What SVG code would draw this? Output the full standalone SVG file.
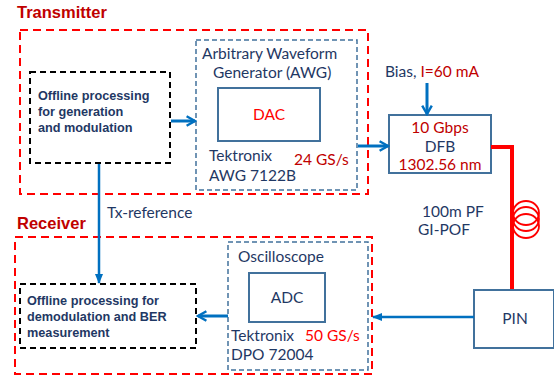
<svg xmlns="http://www.w3.org/2000/svg" width="554" height="376" viewBox="0 0 554 376">
<defs>
<style>
.t{font-family:Lato,"Liberation Sans",sans-serif;font-size:15.5px;fill:#1f3864}
.r{fill:#c00000}
.rb{fill:#ff0000}
.b{font-family:"Liberation Sans",Arial,sans-serif;font-size:12.7px;font-weight:bold;fill:#1f3864}
.h{font-family:"Liberation Sans",Arial,sans-serif;font-size:16.5px;font-weight:bold;fill:#c00000}
.red{fill:none;stroke:#ff0000;stroke-width:2;stroke-dasharray:8 5}
.blk{fill:none;stroke:#000;stroke-width:2;stroke-dasharray:6 4}
.bg{fill:none;stroke:#41719c;stroke-width:1.5;stroke-dasharray:5 3}
.sol{fill:#fff;stroke:#41719c;stroke-width:2}
.a{fill:none;stroke:#0070c0;stroke-width:3}
.a2{fill:none;stroke:#0070c0;stroke-width:2.5}
</style>
<marker id="v" viewBox="0 0 10 10" refX="8" refY="5" markerWidth="4" markerHeight="4" orient="auto" markerUnits="strokeWidth">
<path d="M1,1 L8,5 L1,9" fill="none" stroke="#0070c0" stroke-width="2"/>
</marker>
<marker id="f" viewBox="0 0 10 10" refX="9" refY="5" markerWidth="4" markerHeight="4" orient="auto" markerUnits="strokeWidth">
<path d="M0,1 L10,5 L0,9 Z" fill="#0070c0"/>
</marker>
</defs>
<rect width="554" height="376" fill="#fff"/>

<g id="transmitter">
<text class="h" x="17" y="18">Transmitter</text>
<rect class="red" x="20" y="30" width="348" height="164"/>
</g>
<g id="receiver">
<text class="h" x="17" y="229">Receiver</text>
<rect class="red" x="15" y="237" width="357" height="137"/>
</g>

<g id="tx-offline">
<rect class="blk" x="30" y="72" width="140" height="91"/>
<text class="b" x="38" y="100">Offline processing</text>
<text class="b" x="38" y="116">for generation</text>
<text class="b" x="38" y="132">and modulation</text>
</g>

<g id="awg">
<rect class="bg" x="196" y="40" width="161" height="150"/>
<text class="t" x="202" y="59">Arbitrary Waveform</text>
<text class="t" x="213" y="78">Generator (AWG)</text>
<text class="t" x="209" y="161">Tektronix</text>
<text class="t" x="209" y="181">AWG 7122B</text>
<text class="t r" x="294" y="165">24 GS/s</text>
</g>
<g id="dac">
<rect class="sol" x="218" y="88" width="102" height="53"/>
<text class="t rb" x="269" y="120" text-anchor="middle">DAC</text>
</g>

<g id="dfb">
<rect class="sol" x="389" y="115" width="102" height="58"/>
<text class="t r" x="440" y="133" text-anchor="middle">10 Gbps</text>
<text class="t" x="440" y="152" text-anchor="middle">DFB</text>
<text class="t r" x="440" y="170" text-anchor="middle">1302.56 nm</text>
</g>

<g id="bias">
<text class="t" x="385" y="77">Bias, <tspan class="r">I=60 mA</tspan></text>
</g>

<g id="fiber">
<polyline points="491,147 512,147 512,290" fill="none" stroke="#ff0000" stroke-width="4"/>
<ellipse cx="526" cy="213" rx="13" ry="12" fill="none" stroke="#ff0000" stroke-width="1.8"/>
<ellipse cx="526" cy="219" rx="13" ry="12" fill="none" stroke="#ff0000" stroke-width="1.8"/>
<ellipse cx="526" cy="226" rx="13" ry="12" fill="none" stroke="#ff0000" stroke-width="1.8"/>
<text class="t" x="422" y="217">100m PF</text>
<text class="t" x="418" y="235">GI-POF</text>
</g>

<g id="pin">
<rect class="sol" x="474" y="290" width="80" height="58"/>
<text class="t" x="515" y="324" text-anchor="middle">PIN</text>
</g>

<g id="oscilloscope">
<rect class="bg" x="228" y="242" width="140" height="128"/>
<text class="t" x="238" y="262">Oscilloscope</text>
<text class="t" x="231" y="341">Tektronix</text>
<text class="t" x="231" y="360">DPO 72004</text>
<text class="t rb" x="305" y="341">50 GS/s</text>
</g>
<g id="adc">
<rect class="sol" x="249" y="273" width="76" height="49"/>
<text class="t" x="287" y="303" text-anchor="middle">ADC</text>
</g>

<g id="rx-offline">
<rect class="blk" x="20" y="284" width="176" height="64"/>
<text class="b" x="27" y="305">Offline processing for</text>
<text class="b" x="27" y="321">demodulation and  BER</text>
<text class="b" x="27" y="337">measurement</text>
</g>

<g id="connectors">
<line class="a" x1="171" y1="121" x2="195" y2="121" marker-end="url(#v)"/>
<line class="a" x1="358" y1="146" x2="388" y2="146" marker-end="url(#v)"/>
<line class="a" x1="427" y1="83" x2="427" y2="114" marker-end="url(#v)"/>
<line class="a2" x1="99" y1="164" x2="99" y2="283" marker-end="url(#f)"/>
<line class="a2" x1="474" y1="317" x2="373" y2="317" marker-end="url(#f)"/>
<line class="a" x1="228" y1="316" x2="198" y2="316" marker-end="url(#v)"/>
<text class="t" x="107" y="218">Tx-reference</text>
</g>
</svg>
